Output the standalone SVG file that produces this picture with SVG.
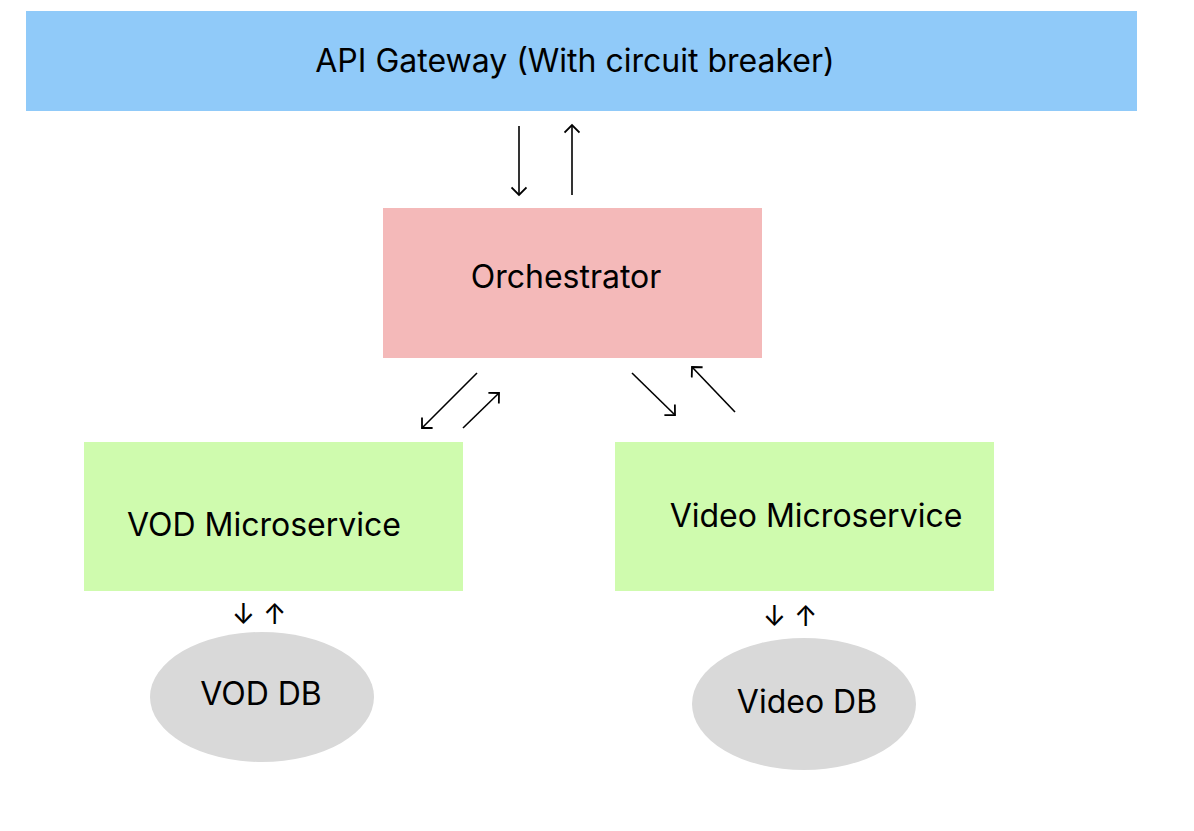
<svg xmlns="http://www.w3.org/2000/svg" width="1194" height="831" viewBox="0 0 1194 831">
  <style>
    .lbl { font-family: Inter, "Liberation Sans", sans-serif; font-size: 32px; fill: #000; text-anchor: middle; }
    .conn { stroke: #000; stroke-width: 1.6; fill: none; marker-end: url(#arr); }
    .small { font-family: Inter, "DejaVu Sans", sans-serif; font-size: 28px; fill: #000; text-anchor: middle; }
  </style>
  <defs>
    <marker id="arr" viewBox="0 0 12 16" refX="9.5" refY="8" markerWidth="12" markerHeight="16" markerUnits="userSpaceOnUse" orient="auto">
      <path d="M2,0.5 L9.5,8 L2,15.5" fill="none" stroke="#000" stroke-width="1.8"/>
    </marker>
  </defs>
  <rect width="1194" height="831" fill="#fff"/>

  <g id="api-gateway">
    <rect x="26" y="11" width="1111" height="100" fill="#90CAF9"/>
    <text class="lbl" x="575" y="72">API Gateway (With circuit breaker)</text>
  </g>

  <g id="orchestrator">
    <rect x="383" y="208" width="379" height="150" fill="#F4B9B9"/>
    <text class="lbl" x="566" y="288">Orchestrator</text>
  </g>

  <g id="vod-microservice">
    <rect x="84" y="442" width="379" height="149" fill="#CFFBAE"/>
    <text class="lbl" x="264" y="536">VOD Microservice</text>
  </g>

  <g id="video-microservice">
    <rect x="615" y="442" width="379" height="149" fill="#CFFBAE"/>
    <text class="lbl" x="816" y="527">Video Microservice</text>
  </g>

  <g id="vod-db">
    <ellipse cx="262" cy="697" rx="112" ry="65" fill="#D9D9D9"/>
    <text class="lbl" x="261" y="705">VOD DB</text>
  </g>

  <g id="video-db">
    <ellipse cx="804" cy="704" rx="112" ry="66" fill="#D9D9D9"/>
    <text class="lbl" x="807" y="713">Video DB</text>
  </g>

  <g id="connectors">
    <line class="conn" x1="519" y1="126" x2="519" y2="195"/>
    <line class="conn" x1="572" y1="195" x2="572" y2="125"/>
    <line class="conn" x1="477" y1="373" x2="422" y2="428"/>
    <line class="conn" x1="463" y1="428" x2="499" y2="393"/>
    <line class="conn" x1="632" y1="373" x2="675" y2="415"/>
    <line class="conn" x1="735" y1="412" x2="692" y2="367"/>
    <text class="small" x="259" y="624">↓ ↑</text>
    <text class="small" x="790" y="626">↓ ↑</text>
  </g>
</svg>
